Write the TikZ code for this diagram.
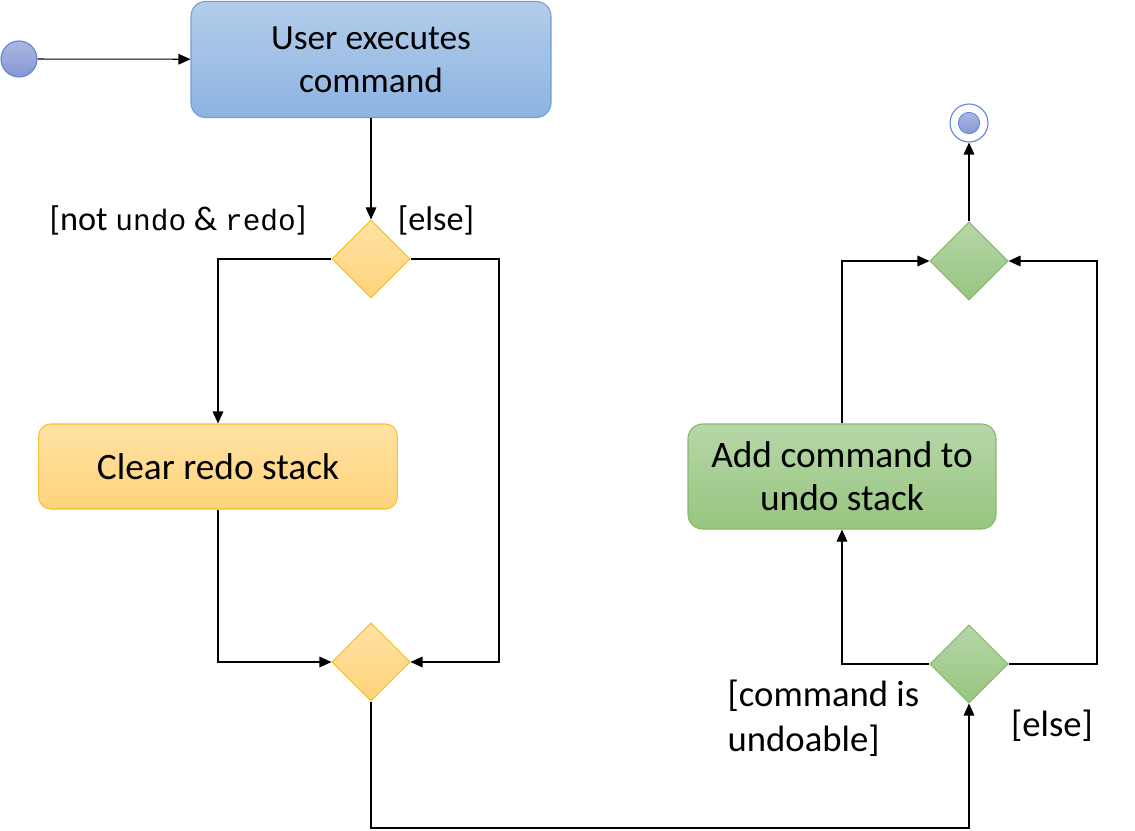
\documentclass[tikz,border=0pt]{standalone}
\usepackage{fontspec}
\setmainfont{Carlito}
\setmonofont[Scale=0.86]{Liberation Mono}
\usetikzlibrary{arrows.meta,shapes.geometric}
\definecolor{blueedge}{HTML}{6E9FD8}
\definecolor{bluetop}{HTML}{B3CDEA}
\definecolor{bluebot}{HTML}{8DB3E2}
\definecolor{yellowedge}{HTML}{F2C232}
\definecolor{yellowtop}{HTML}{FFE2A3}
\definecolor{yellowbot}{HTML}{FFD37C}
\definecolor{greenedge}{HTML}{86B86B}
\definecolor{greentop}{HTML}{B6D7A8}
\definecolor{greenbot}{HTML}{97C57F}
\definecolor{dottop}{HTML}{ABB8E3}
\definecolor{dotbot}{HTML}{8597D3}
\definecolor{dotedge}{HTML}{5B84D3}
\tikzset{
  txt/.style={font=\fontsize{28}{32.5}\selectfont, align=center},
  bluebox/.style={txt, draw=blueedge, line width=0.8pt, rounded corners=11pt, top color=bluetop, bottom color=bluebot},
  yellowbox/.style={txt, draw=yellowedge, line width=0.8pt, rounded corners=9pt, top color=yellowtop, bottom color=yellowbot},
  greenbox/.style={txt, draw=greenedge, line width=0.8pt, rounded corners=11pt, top color=greentop, bottom color=greenbot},
  decision/.style={diamond, inner sep=0pt, minimum width=58.5pt, minimum height=58.5pt, line width=0.8pt},
  ydec/.style={decision, draw=yellowedge, top color=yellowtop, bottom color=yellowbot},
  gdec/.style={decision, draw=greenedge, top color=greentop, bottom color=greenbot},
  flow/.style={line width=0.8pt, -{Triangle[length=9pt,width=8pt]}},
  guard/.style={font=\fontsize{25.7}{33}\selectfont},
  bigguard/.style={font=\fontsize{27.5}{34}\selectfont}
}
\begin{document}
\begin{tikzpicture}[x=0.75pt,y=-0.75pt]
\useasboundingbox (0,0) rectangle (1135,831);
% initial node
\node[circle, draw=dotedge, line width=0.8pt, top color=dottop, bottom color=dotbot, minimum size=27pt, inner sep=0pt] (init) at (19,59) {};
% final node
\node[circle, draw=dotedge, line width=0.8pt, fill=white, minimum size=28.5pt, inner sep=0pt] (final) at (969,123) {};
\node[circle, draw=dotedge, line width=0.6pt, top color=dottop, bottom color=dotbot, minimum size=16pt, inner sep=0pt] (finaldot) at (969,123) {};
% actions
\node[bluebox, font=\fontsize{26.5}{32.5}\selectfont, minimum width=270pt, minimum height=87pt] (user) at (371,59.5) {User executes\\command};
\node[yellowbox, minimum width=269pt, minimum height=63.75pt] (clear) at (218,466.5) {Clear redo stack};
\node[greenbox, minimum width=231pt, minimum height=78.75pt] (add) at (842,476.5) {Add command to\\undo stack};
% decisions
\node[ydec] (d1) at (371,259) {};
\node[ydec] (d2) at (371,662) {};
\node[gdec] (d3) at (969,664) {};
\node[gdec] (d4) at (969,261) {};
% helper coordinates
\coordinate (r1) at (499,259);
\coordinate (b1) at (371,828);
\coordinate (r3) at (1097,664);
% connectors
\draw[flow] (init) -- (user);
\draw[flow] (user) -- (d1);
\draw[flow] (d1.west) -| (clear.north);
\draw[flow] (d1.east) -- (r1) |- (d2.east);
\draw[flow] (clear.south) |- (d2.west);
\draw[flow] (d2.south) -- (b1) -| (d3.south);
\draw[flow] (d3.west) -| (add.south);
\draw[flow] (d3.east) -- (r3) |- (d4.east);
\draw[flow] (add.north) |- (d4.west);
\draw[flow] (d4.north) -- (final);
% guards
\node[guard] (g1) at (178,220) {[not \texttt{undo} \& \texttt{redo}]};
\node[guard] (g2) at (436,220) {[else]};
\node[bigguard, align=left, anchor=west] (g3) at (723,718) {[command is\\undoable]};
\node[bigguard] (g4) at (1052,726) {[else]};
\end{tikzpicture}
\end{document}
